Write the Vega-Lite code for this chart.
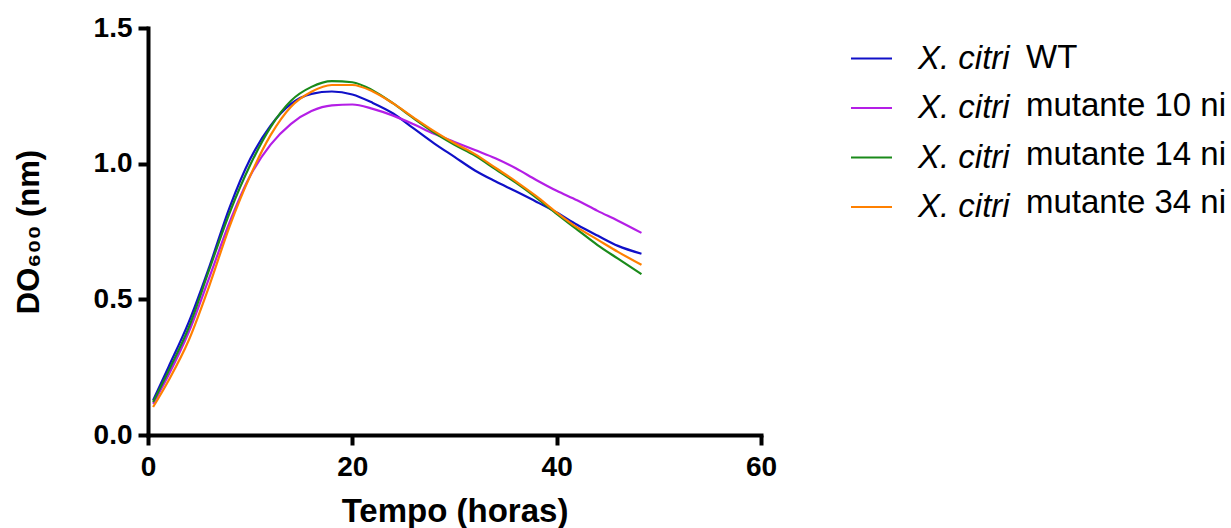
{
  "$schema": "https://vega.github.io/schema/vega-lite/v6.json",
  "autosize": "none",
  "width": 613,
  "height": 407,
  "padding": {"left": 148, "top": 28, "right": 470, "bottom": 93},
  "background": "white",
  "config": {
    "view": {"stroke": null},
    "font": "Liberation Sans"
  },
  "data": {
    "values": [
      {"t": 0.5, "s1_wt": 0.128, "s2_m10": 0.115, "s3_m14": 0.122, "s4_m34": 0.103},
      {"t": 2, "s1_wt": 0.25, "s2_m10": 0.22, "s3_m14": 0.235, "s4_m34": 0.2},
      {"t": 4, "s1_wt": 0.417, "s2_m10": 0.38, "s3_m14": 0.397, "s4_m34": 0.35},
      {"t": 6, "s1_wt": 0.62, "s2_m10": 0.58, "s3_m14": 0.61, "s4_m34": 0.55},
      {"t": 8, "s1_wt": 0.84, "s2_m10": 0.785, "s3_m14": 0.82, "s4_m34": 0.77},
      {"t": 10, "s1_wt": 1.017, "s2_m10": 0.955, "s3_m14": 0.995, "s4_m34": 0.955},
      {"t": 12, "s1_wt": 1.14, "s2_m10": 1.07, "s3_m14": 1.135, "s4_m34": 1.105},
      {"t": 14, "s1_wt": 1.22, "s2_m10": 1.147, "s3_m14": 1.232, "s4_m34": 1.21},
      {"t": 16, "s1_wt": 1.257, "s2_m10": 1.194, "s3_m14": 1.283, "s4_m34": 1.265},
      {"t": 18, "s1_wt": 1.266, "s2_m10": 1.215, "s3_m14": 1.304, "s4_m34": 1.29},
      {"t": 20, "s1_wt": 1.255, "s2_m10": 1.218, "s3_m14": 1.3, "s4_m34": 1.29},
      {"t": 22, "s1_wt": 1.224, "s2_m10": 1.202, "s3_m14": 1.27, "s4_m34": 1.266},
      {"t": 24, "s1_wt": 1.185, "s2_m10": 1.177, "s3_m14": 1.222, "s4_m34": 1.222},
      {"t": 26, "s1_wt": 1.13, "s2_m10": 1.145, "s3_m14": 1.167, "s4_m34": 1.17},
      {"t": 28, "s1_wt": 1.075, "s2_m10": 1.11, "s3_m14": 1.115, "s4_m34": 1.12},
      {"t": 30, "s1_wt": 1.025, "s2_m10": 1.08, "s3_m14": 1.07, "s4_m34": 1.075},
      {"t": 32, "s1_wt": 0.975, "s2_m10": 1.05, "s3_m14": 1.03, "s4_m34": 1.035},
      {"t": 34, "s1_wt": 0.935, "s2_m10": 1.02, "s3_m14": 0.98, "s4_m34": 0.985},
      {"t": 36, "s1_wt": 0.898, "s2_m10": 0.983, "s3_m14": 0.93, "s4_m34": 0.935},
      {"t": 38, "s1_wt": 0.86, "s2_m10": 0.94, "s3_m14": 0.875, "s4_m34": 0.88},
      {"t": 40, "s1_wt": 0.82, "s2_m10": 0.9, "s3_m14": 0.815, "s4_m34": 0.82},
      {"t": 42, "s1_wt": 0.775, "s2_m10": 0.865, "s3_m14": 0.757, "s4_m34": 0.765},
      {"t": 44, "s1_wt": 0.735, "s2_m10": 0.826, "s3_m14": 0.7, "s4_m34": 0.72},
      {"t": 46, "s1_wt": 0.697, "s2_m10": 0.79, "s3_m14": 0.65, "s4_m34": 0.675},
      {"t": 48.3, "s1_wt": 0.668, "s2_m10": 0.745, "s3_m14": 0.593, "s4_m34": 0.627}
    ]
  },
  "transform": [
    {"fold": ["s1_wt", "s2_m10", "s3_m14", "s4_m34"], "as": ["cepa", "do600"]}
  ],
  "mark": {"type": "line", "interpolate": "monotone", "strokeWidth": 2.2},
  "encoding": {
    "x": {
      "field": "t",
      "type": "quantitative",
      "scale": {"domain": [0, 60], "nice": false},
      "axis": {
        "title": "Tempo (horas)",
        "values": [0, 20, 40, 60],
        "grid": false,
        "domainColor": "black",
        "domainWidth": 4,
        "domainCap": "square",
        "tickColor": "black",
        "tickWidth": 4,
        "tickSize": 10,
        "labelFont": "Liberation Sans",
        "labelFontSize": 28,
        "labelFontWeight": "bold",
        "labelColor": "black",
        "labelPadding": 8,
        "labelFlush": false,
        "titleFont": "Liberation Sans",
        "titleFontSize": 33,
        "titleFontWeight": "bold",
        "titleColor": "black",
        "titlePadding": 14
      }
    },
    "y": {
      "field": "do600",
      "type": "quantitative",
      "scale": {"domain": [0, 1.5], "nice": false},
      "axis": {
        "title": "DO₆₀₀ (nm)",
        "values": [0, 0.5, 1, 1.5],
        "format": ".1f",
        "grid": false,
        "domainColor": "black",
        "domainWidth": 4,
        "domainCap": "square",
        "tickColor": "black",
        "tickWidth": 4,
        "tickSize": 10,
        "labelFont": "Liberation Sans",
        "labelFontSize": 28,
        "labelFontWeight": "bold",
        "labelColor": "black",
        "labelPadding": 6,
        "labelFlush": false,
        "titleFont": "Liberation Sans",
        "titleFontSize": 31,
        "titleFontWeight": "bold",
        "titleColor": "black",
        "titlePadding": 48
      }
    },
    "color": {
      "field": "cepa",
      "type": "nominal",
      "scale": {
        "domain": ["s1_wt", "s2_m10", "s3_m14", "s4_m34"],
        "range": ["#1010C8", "#B41EE6", "#1A8A1A", "#FF8000"]
      },
      "legend": {
        "title": null,
        "orient": "none",
        "legendX": 702,
        "legendY": 9,
        "symbolType": "stroke",
        "symbolSize": 1681,
        "symbolStrokeWidth": 2,
        "labelFont": "Liberation Sans",
        "labelFontSize": 33,
        "labelFontStyle": "italic",
        "labelColor": "black",
        "labelOffset": 25,
        "labelLimit": 0,
        "rowPadding": 10.5,
        "labelExpr": "'X. citri'"
      }
    },
    "opacity": {
      "field": "cepa",
      "type": "nominal",
      "scale": {"range": [1, 1, 1, 1]},
      "legend": {
        "title": null,
        "orient": "none",
        "legendX": 812,
        "legendY": 9,
        "symbolType": "stroke",
        "symbolSize": 1681,
        "symbolStrokeWidth": 0,
        "symbolStrokeColor": "transparent",
        "symbolOpacity": 0,
        "labelFont": "Liberation Sans",
        "labelFontSize": 33,
        "labelColor": "black",
        "labelOffset": 25,
        "labelLimit": 0,
        "rowPadding": 10.5,
        "labelExpr": "datum.value == 's1_wt' ? 'WT' : datum.value == 's2_m10' ? 'mutante 10 ni' : datum.value == 's3_m14' ? 'mutante 14 ni' : 'mutante 34 ni'"
      }
    }
  }
}
